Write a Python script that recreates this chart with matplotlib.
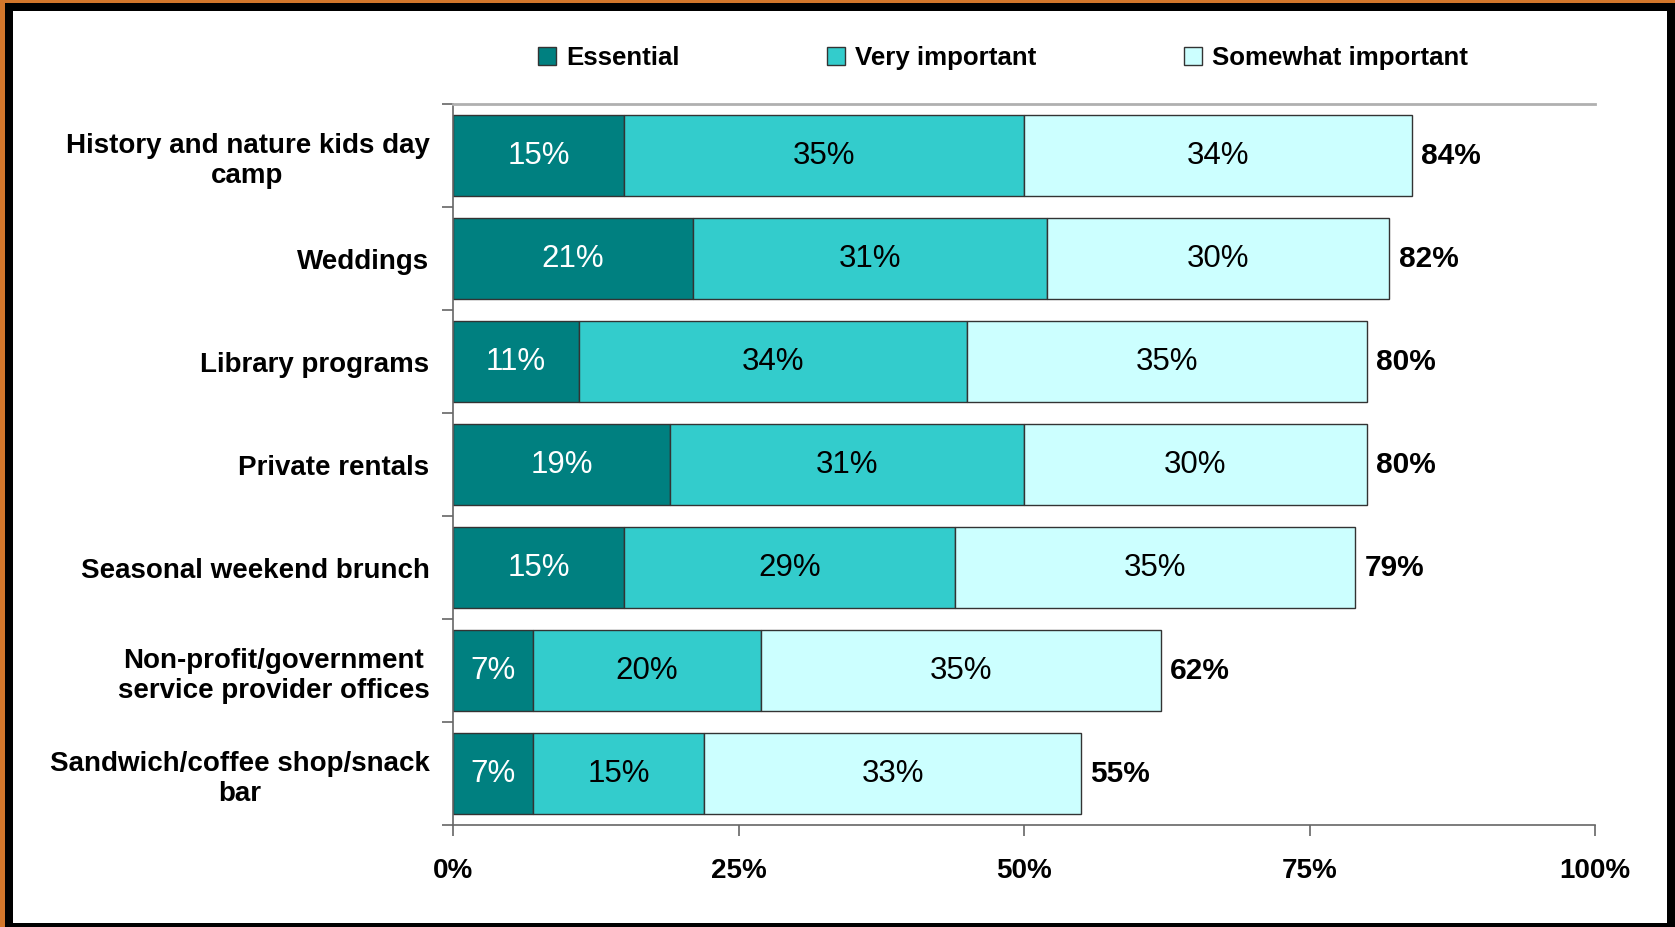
import matplotlib
matplotlib.use("Agg")
import matplotlib.pyplot as plt
from matplotlib.patches import Rectangle
import numpy as np

categories = [
    "History and nature kids day\ncamp",
    "Weddings",
    "Library programs",
    "Private rentals",
    "Seasonal weekend brunch",
    "Non-profit/government\nservice provider offices",
    "Sandwich/coffee shop/snack\nbar",
]
essential = [15, 21, 11, 19, 15, 7, 7]
very_important = [35, 31, 34, 31, 29, 20, 15]
somewhat_important = [34, 30, 35, 30, 35, 35, 33]
totals = [84, 82, 80, 80, 79, 62, 55]
series_names = ["Essential", "Very important", "Somewhat important"]
colors = ["#008080", "#33CCCC", "#CCFFFF"]
label_colors = ["white", "black", "black"]
x_ticks = [0, 25, 50, 75, 100]

plt.rcParams["font.family"] = ["Liberation Sans", "DejaVu Sans"]

fig = plt.figure(figsize=(16.75, 9.27), dpi=100)
fig.patch.set_facecolor("#D4772B")
# black frame and white panel
fig.patches.append(Rectangle((5 / 1675, 0), 1 - 5 / 1675, 924 / 927,
                             transform=fig.transFigure, facecolor="black", zorder=-2))
fig.patches.append(Rectangle((13 / 1675, 4 / 927), 1654 / 1675, 912 / 927,
                             transform=fig.transFigure, facecolor="white", zorder=-1))

ax = fig.add_axes([453 / 1675, 1 - 825 / 927, 1142 / 1675, 721 / 927])
ax.set_facecolor("white")

y = np.arange(len(categories))
left = np.zeros(len(categories))
for vals, name, col, lc in zip([essential, very_important, somewhat_important],
                               series_names, colors, label_colors):
    bars = ax.barh(y, vals, left=left, height=0.79, color=col, edgecolor="#333333",
                   linewidth=1, label=name)
    for b, v in zip(bars, vals):
        ax.text(b.get_x() + b.get_width() / 2, b.get_y() + b.get_height() / 2, f"{v}%",
                ha="center", va="center", color=lc, fontsize=22.5)
    left = left + np.array(vals)

for yi, t in zip(y, totals):
    ax.text(t + 0.8, yi, f"{t}%", ha="left", va="center", fontsize=21.5, fontweight="bold")

ax.set_xlim(0, 100)
ax.set_ylim(len(categories) - 0.5, -0.5)
ax.set_xticks(x_ticks)
ax.set_xticklabels([f"{v}%" for v in x_ticks], fontsize=20, fontweight="bold")
ax.set_yticks(y)
ax.set_yticklabels(categories, fontsize=20, fontweight="bold", multialignment="center")
ax.set_yticks(np.arange(-0.5, len(categories)), minor=True)
ax.tick_params(axis="y", which="major", length=0, pad=17)
ax.tick_params(axis="y", which="minor", length=8, width=1.2, color="#666666", direction="out")
ax.tick_params(axis="x", which="major", length=8, width=1.2, color="#666666", pad=16)

ax.spines["right"].set_visible(False)
ax.spines["top"].set_color("#B0B0B0")
ax.spines["top"].set_linewidth(2)
for s in ["left", "bottom"]:
    ax.spines[s].set_color("#666666")
    ax.spines[s].set_linewidth(1.2)

fig.legend(loc="center", bbox_to_anchor=(1003 / 1675, 1 - 58 / 927), ncol=3,
           frameon=False, prop={"size": 18.6, "weight": "bold"},
           handlelength=0.7, handleheight=0.67, handletextpad=0.4, columnspacing=5.7)

fig.savefig("out.png", dpi=100, facecolor=fig.get_facecolor())
